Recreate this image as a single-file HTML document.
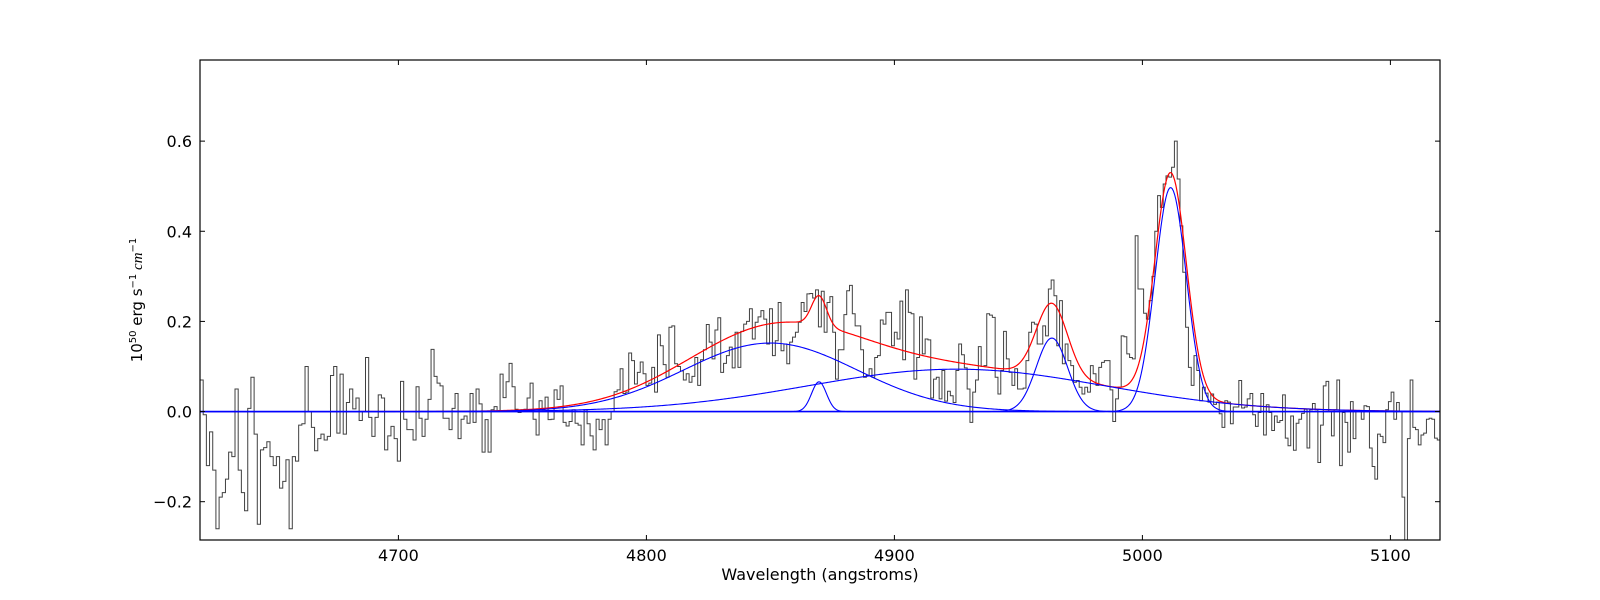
<!DOCTYPE html>
<html><head><meta charset="utf-8"><style>
html,body{margin:0;padding:0;background:#fff;}
svg{display:block;font-family:"DejaVu Sans","Liberation Sans",sans-serif;}
</style></head><body>
<svg id="chart" width="1600" height="600" viewBox="0 0 1600 600" xmlns="http://www.w3.org/2000/svg">
<rect x="0" y="0" width="1600" height="600" fill="#fff"/>
<defs><clipPath id="clip"><rect x="200" y="60" width="1240" height="480"/></clipPath></defs>
<g id="plot" clip-path="url(#clip)"></g>
<g id="axes"></g>
<text x="820" y="580" font-size="16" text-anchor="middle">Wavelength (angstroms)</text>
<text transform="translate(142,300) rotate(-90)" font-size="15" text-anchor="middle">10<tspan dy="-6" font-size="10">50</tspan><tspan dy="6"> erg s</tspan><tspan dy="-6" font-size="10">−1</tspan><tspan dy="6" font-style="italic" font-family="Liberation Serif, serif"> cm</tspan><tspan dy="-6" font-size="10">−1</tspan></text>
</svg>
<script>
const xDomain = [4620, 5120];
const yDomain = [-0.285, 0.78];
const xTicks = [4700, 4800, 4900, 5000, 5100];
const yTicks = [-0.2, 0.0, 0.2, 0.4, 0.6];
const segRanges = [4620, 4704.7, 4789.4, 4874.0, 4958.7, 5043.4, 5120];
const seg1 = [0.07,-0.007,-0.12,-0.045,-0.13,-0.26,-0.19,-0.18,-0.15,-0.09,-0.1,0.05,-0.13,-0.18,-0.22,0.007,0.076,-0.05,-0.25,-0.085,-0.08,-0.067,-0.1,-0.12,-0.1,-0.17,-0.155,-0.107,-0.26,-0.1,-0.11,-0.03,-0.027,0.1,0,-0.035,-0.087,-0.06,-0.05,-0.063,-0.055,0.08,0.1,-0.048,0.083,-0.05,0.02,0.05,0.006,0.03,-0.02,0,0.12,-0.013,-0.055,-0.013,0.037,0.03,-0.085,-0.054,-0.033,-0.06,-0.11,0.067,-0.017,-0.04];
const seg2 = [-0.04,-0.063,0.055,-0.015,-0.055,-0.017,0.027,0.138,0.078,0.063,0.057,-0.015,-0.015,-0.04,0.007,0.04,-0.06,-0.017,-0.01,-0.026,0.04,-0.024,0.05,0.017,-0.09,-0.018,-0.09,0.004,0.011,0,0.083,0.031,0.066,0.107,0.055,0.005,-0.002,0.004,0.005,0.03,0.063,-0.017,-0.052,0.024,0.004,0.032,-0.018,-0.017,0.048,0.027,0.057,-0.024,-0.032,-0.022,0.004,-0.026,-0.03,-0.074,0.004,-0.027,-0.054,-0.085,-0.017,-0.04,-0.018,-0.074,-0.017,0,0.044,0.048];
const seg3 = [0.095,0.04,0.043,0.13,0.113,0.061,0.087,0.11,0.084,0.058,0.063,0.098,0.043,0.17,0.146,0.104,0.076,0.187,0.19,0.106,0.1,0.09,0.07,0.084,0.065,0.078,0.12,0.058,0.115,0.137,0.193,0.154,0.117,0.181,0.208,0.087,0.107,0.124,0.143,0.097,0.176,0.098,0.178,0.194,0.2,0.228,0.161,0.198,0.21,0.224,0.205,0.15,0.228,0.124,0.157,0.242,0.135,0.15,0.106,0.154,0.165,0.176,0.198,0.242,0.222,0.261,0.262,0.252,0.27,0.188,0.267,0.176,0.242];
const seg4 = [0.255,0.176,0.072,0.137,0.137,0.215,0.268,0.28,0.217,0.19,0.19,0.137,0.076,0.08,0.095,0.076,0.12,0.124,0.203,0.194,0.22,0.22,0.146,0.176,0.161,0.245,0.115,0.27,0.22,0.217,0.072,0.12,0.21,0.128,0.161,0.159,0.03,0.072,0.076,0.028,0.091,0.023,0.045,0.035,0.02,0.091,0.15,0.126,0.097,0.05,-0.024,0.043,0.07,0.144,0.1,0.102,0.217,0.214,0.209,0.076,0.039,0.091,0.178,0.117,0.087,0.058,0.095,0.05,0.05,0.052,0.113,0.176,0.198,0.194,0.15];
const seg5 = [0.15,0.19,0.168,0.272,0.292,0.257,0.146,0.246,0.106,0.15,0.113,0.102,0.065,0.069,0.054,0.039,0.054,0.043,0.102,0.084,0.058,0.098,0.109,0.113,0.113,0.048,-0.022,0.028,0.054,0.168,0.166,0.128,0.12,0.117,0.39,0.272,0.272,0.218,0.205,0.246,0.30,0.40,0.479,0.453,0.505,0.523,0.52,0.542,0.6,0.516,0.412,0.309,0.187,0.098,0.058,0.124,0.091,0.024,0.054,0.041,0.021,0.039,0.016,0.021,-0.005,-0.035,0.024,0.021,-0.027,0.01,0.01,0.069,0.008,0.01,0.028];
const seg6 = [0.04,-0.007,-0.033,-0.002,0.04,-0.052,0.015,-0.002,-0.042,-0.01,-0.024,-0.02,0.037,-0.059,-0.076,-0.01,-0.086,-0.026,-0.017,-0.004,0.005,-0.081,0.004,0.018,0.004,-0.113,-0.03,0.057,0.067,0,-0.054,0.004,0.07,-0.12,-0.002,-0.024,-0.09,0.022,-0.06,0,0,-0.017,0.013,0.011,-0.081,-0.122,-0.15,-0.05,-0.055,-0.069,0.004,0.022,0.043,-0.017,0.02,0,-0.19,-0.29,-0.06,0.07,-0.035,-0.04,-0.074,-0.052,-0.048,-0.017,-0.015,-0.017,-0.059,-0.063];
const compCenters = [4850, 4925, 4869.6, 4963.5, 5011.4];
const compAmps = [0.152, 0.094, 0.066, 0.163, 0.497];
const compSigmas = [35, 60, 3, 6.3, 6.3];

const PX0=200, PX1=1440, PY0=540, PY1=60;
function xs(w){return PX0+(w-xDomain[0])/(xDomain[1]-xDomain[0])*(PX1-PX0);}
function ys(v){return PY0-(v-yDomain[0])/(yDomain[1]-yDomain[0])*(PY0-PY1);}
const NS='http://www.w3.org/2000/svg';
const plot=document.getElementById('plot'), axes=document.getElementById('axes');
function mk(tag,attrs,parent){const e=document.createElementNS(NS,tag);for(const k in attrs)e.setAttribute(k,attrs[k]);parent.appendChild(e);return e;}

const segs=[seg1,seg2,seg3,seg4,seg5,seg6];
let d='';
segs.forEach((s,i)=>{
  const w0=segRanges[i], w1=segRanges[i+1], step=(w1-w0)/s.length;
  s.forEach((v,j)=>{
    const xa=xs(w0+j*step), xb=xs(w0+(j+1)*step), y=ys(v);
    d += (d===''?'M':'L')+xa.toFixed(2)+' '+y.toFixed(2)+' L'+xb.toFixed(2)+' '+y.toFixed(2)+' ';
  });
});
const spec=mk('path',{d:d,fill:'none',stroke:'#404040','stroke-width':1},plot);



function gauss(w,i){const t=(w-compCenters[i])/compSigmas[i];return compAmps[i]*Math.exp(-0.5*t*t);}
let dm='';
for(let w=xDomain[0]; w<=xDomain[1]; w+=0.5){
  let s=0; for(let i=0;i<compCenters.length;i++) s+=gauss(w,i);
  dm+=(dm===''?'M':'L')+xs(w).toFixed(2)+' '+ys(s).toFixed(2)+' ';
}
const model=mk('path',{d:dm,fill:'none',stroke:'#ff0000','stroke-width':1.2},plot);



for(let i=0;i<compCenters.length;i++){
  let dc='';
  for(let w=xDomain[0]; w<=xDomain[1]; w+=0.5){
    dc+=(dc===''?'M':'L')+xs(w).toFixed(2)+' '+ys(gauss(w,i)).toFixed(2)+' ';
  }
  const c=mk('path',{d:dc,fill:'none',stroke:'#0000ff','stroke-width':1.1},plot);
  
  
}
const zl=mk('line',{x1:PX0,x2:PX1,y1:ys(0),y2:ys(0),stroke:'#0000ff','stroke-width':1.5},plot);



const fr=mk('rect',{x:PX0,y:PY1,width:PX1-PX0,height:PY0-PY1,fill:'none',stroke:'#000','stroke-width':1.2},axes);


xTicks.forEach(t=>{
  const x=xs(t);
  const a=mk('line',{x1:x,x2:x,y1:PY0,y2:PY0-5,stroke:'#000'},axes);
  
  
  const b=mk('line',{x1:x,x2:x,y1:PY1,y2:PY1+5,stroke:'#000'},axes);
  
  
  const l=mk('text',{x:x,y:PY0+21,'font-size':16,'text-anchor':'middle'},axes);
  l.textContent=String(t);
  
  
});
yTicks.forEach(t=>{
  const y=ys(t);
  const a=mk('line',{x1:PX0,x2:PX0+5,y1:y,y2:y,stroke:'#000'},axes);
  
  
  const b=mk('line',{x1:PX1,x2:PX1-5,y1:y,y2:y,stroke:'#000'},axes);
  
  
  const l=mk('text',{x:PX0-8,y:y+6,'font-size':16,'text-anchor':'end'},axes);
  l.textContent=(t<0?'\u2212':'')+Math.abs(t).toFixed(1);
  
  
});
</script>
</body></html>
